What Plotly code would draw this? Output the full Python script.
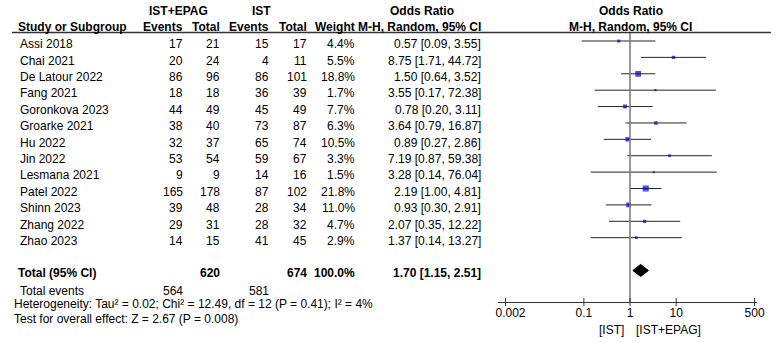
import math
import plotly.graph_objects as go

# ---------------- data ----------------
studies = ["Assi 2018", "Chai 2021", "De Latour 2022", "Fang 2021", "Goronkova 2023",
           "Groarke 2021", "Hu 2022", "Jin 2022", "Lesmana 2021", "Patel 2022",
           "Shinn 2023", "Zhang 2022", "Zhao 2023"]
epag_events = [17, 20, 86, 18, 44, 38, 32, 53, 9, 165, 39, 29, 14]
epag_total = [21, 24, 96, 18, 49, 40, 37, 54, 9, 178, 48, 31, 15]
ist_events = [15, 4, 86, 36, 45, 73, 65, 59, 14, 87, 28, 28, 41]
ist_total = [17, 11, 101, 39, 49, 87, 74, 67, 16, 102, 34, 32, 45]
weights = [4.4, 5.5, 18.8, 1.7, 7.7, 6.3, 10.5, 3.3, 1.5, 21.8, 11.0, 4.7, 2.9]
odds = [0.57, 8.75, 1.50, 3.55, 0.78, 3.64, 0.89, 7.19, 3.28, 2.19, 0.93, 2.07, 1.37]
ci_low = [0.09, 1.71, 0.64, 0.17, 0.20, 0.79, 0.27, 0.87, 0.14, 1.00, 0.30, 0.35, 0.14]
ci_high = [3.55, 44.72, 3.52, 72.38, 3.11, 16.87, 2.86, 59.38, 76.04, 4.81, 2.91, 12.22, 13.27]
pooled_or, pooled_low, pooled_high = 1.70, 1.15, 2.51
total_epag, total_ist, total_weight = 620, 674, "100.0%"
events_epag, events_ist = 564, 581
tick_vals = [0.002, 0.1, 1, 10, 500]
tick_text = ["&nbsp;&nbsp;&nbsp;0.002", "0.1", "1", "10", "500"]
heterogeneity = "Heterogeneity: Tau² = 0.02; Chi² = 12.49, df = 12 (P = 0.41); I² = 4%"
overall = "Test for overall effect: Z = 2.67 (P = 0.008)"

# ---------------- layout constants ----------------
W, H = 778, 343
FONT = "Arial, 'Liberation Sans', sans-serif"
ROW0_PX, ROW_PX = 41.0, 16.39          # pixel of first study row, row spacing
AX_PX = 302.0                           # pixel y of forest x-axis
ONE_PX, DEC_PX = 633.5, 47.3            # pixel of OR=1, pixels per decade
X0_PX, X1_PX = 498.0, 764.0             # forest axis extent
FOREST_C = 634                          # centre of forest headers

def prow(px):  # pixel y -> row units
    return (px - ROW0_PX) / ROW_PX

def pap_y(px):
    return 1 - px / H

def pap_x(px):
    return px / W

n = len(studies)
rows = list(range(n))
total_row = 14

fig = go.Figure()

# CI lines
xs, ys = [], []
for i in rows:
    xs += [ci_low[i], ci_high[i], None]
    ys += [i, i, None]
fig.add_trace(go.Scatter(x=xs, y=ys, mode="lines", line=dict(color="#262626", width=1),
                         hoverinfo="skip", showlegend=False))
# squares
sizes = [max(2.0, 1.2 * math.sqrt(w) + 0.6) for w in weights]
fig.add_trace(go.Scatter(x=odds, y=rows, mode="markers",
                         marker=dict(symbol="square", size=sizes, color="#0000c8",
                                     line=dict(width=0)),
                         showlegend=False))
# diamond
hh = 0.37
fig.add_trace(go.Scatter(x=[pooled_low, pooled_or, pooled_high, pooled_or, pooled_low],
                         y=[total_row, total_row - hh, total_row, total_row + hh, total_row],
                         mode="lines", fill="toself", fillcolor="#000000",
                         line=dict(color="#000000", width=1), showlegend=False))

shapes = []
# vertical line at OR = 1
shapes.append(dict(type="line", xref="x", yref="y", x0=1, x1=1,
                   y0=prow(33), y1=prow(AX_PX), line=dict(color="#7f7f7f", width=1.6)))
# header rule
shapes.append(dict(type="line", xref="paper", yref="paper", x0=0, x1=1,
                   y0=pap_y(32.5), y1=pap_y(32.5), line=dict(color="#333333", width=1.3)))
# tick marks crossing the axis
for t in tick_vals:
    shapes.append(dict(type="line", xref="x", yref="paper", x0=t, x1=t,
                       y0=pap_y(AX_PX + 4), y1=pap_y(AX_PX - 4),
                       line=dict(color="#333333", width=1)))

ann = []

def txt(x_px, y, text, anchor="right", bold=False, yref="y", size=12):
    if bold:
        text = "<b>" + text + "</b>"
    ann.append(dict(x=pap_x(x_px), y=y, xref="paper", yref=yref, text=text,
                    showarrow=False, xanchor=anchor, yanchor="middle",
                    font=dict(family=FONT, size=size, color="#000000")))

# column right edges (pixels)
C_EE, C_ET, C_IE, C_IT, C_W, C_OR = 177, 215, 265, 304, 354, 483
LEFT_IN, LEFT_OUT = 6, 0

# headers
hy1 = pap_y(11)
hy2 = pap_y(27)
txt(171, hy1, "IST+EPAG", "center", True, "paper")
txt(256, hy1, "IST", "center", True, "paper")
txt(420, hy1, "Odds Ratio", "center", True, "paper")
txt(FOREST_C, hy1, "Odds Ratio", "center", True, "paper")
txt(LEFT_IN - 2, hy2, "Study or Subgroup", "left", True, "paper")
txt(C_EE, hy2, "Events", "right", True, "paper")
txt(C_ET, hy2, "Total", "right", True, "paper")
txt(C_IE, hy2, "Events", "right", True, "paper")
txt(C_IT, hy2, "Total", "right", True, "paper")
txt(C_W, hy2, "Weight", "right", True, "paper")
txt(C_OR, hy2, "M-H, Random, 95% CI", "right", True, "paper")
txt(FOREST_C, hy2, "M-H, Random, 95% CI", "center", True, "paper")

# study rows
off = 0.2
for i in rows:
    y = i + off
    txt(LEFT_IN, y, studies[i], "left")
    txt(C_EE, y, str(epag_events[i]))
    txt(C_ET, y, str(epag_total[i]))
    txt(C_IE, y, str(ist_events[i]))
    txt(C_IT, y, str(ist_total[i]))
    txt(C_W, y, f"{weights[i]:.1f}%")
    txt(C_OR, y, f"{odds[i]:.2f} [{ci_low[i]:.2f}, {ci_high[i]:.2f}]")

# totals
ty = prow(272.5)
txt(LEFT_IN - 2, ty, "Total (95% CI)", "left", True)
txt(C_ET, ty, str(total_epag), "right", True)
txt(C_IT, ty, str(total_ist), "right", True)
txt(C_W, ty, total_weight, "right", True)
txt(C_OR, ty, f"{pooled_or:.2f} [{pooled_low:.2f}, {pooled_high:.2f}]", "right", True)
ey = prow(291)
txt(LEFT_IN, ey, "Total events", "left")
txt(C_EE, ey, str(events_epag))
txt(C_IE, ey, str(events_ist))
txt(LEFT_OUT, prow(304), heterogeneity, "left")
txt(LEFT_OUT, prow(319), overall, "left")

# favours labels (annotation x on a log axis is given in log10 units)
ann.append(dict(x=math.log10(1), y=pap_y(330), xref="x", yref="paper", text="[IST]",
                showarrow=False, xanchor="right", yanchor="middle", xshift=-4,
                font=dict(family=FONT, size=12, color="#000000")))
ann.append(dict(x=math.log10(1), y=pap_y(330), xref="x", yref="paper", text="[IST+EPAG]",
                showarrow=False, xanchor="left", yanchor="middle", xshift=4,
                font=dict(family=FONT, size=12, color="#000000")))

lo_log = (X0_PX - ONE_PX) / DEC_PX
hi_log = (X1_PX - ONE_PX) / DEC_PX

fig.update_layout(
    width=W, height=H, margin=dict(l=0, r=0, t=0, b=0),
    paper_bgcolor="white", plot_bgcolor="rgba(0,0,0,0)",
    xaxis=dict(type="log", domain=[X0_PX / W, X1_PX / W], range=[lo_log, hi_log],
               anchor="free", position=pap_y(AX_PX),
               tickvals=tick_vals, ticktext=tick_text, ticks="",
               showline=True, linecolor="#333333", linewidth=1,
               showgrid=False, zeroline=False,
               tickfont=dict(family=FONT, size=12, color="#000000")),
    yaxis=dict(domain=[0, 1], range=[prow(H), prow(0)], visible=False,
               showgrid=False, zeroline=False),
    shapes=shapes, annotations=ann, showlegend=False,
)

fig.write_html("out.html", config={"displayModeBar": False},
               post_script="document.body.style.margin='0';document.body.style.padding='0';")
